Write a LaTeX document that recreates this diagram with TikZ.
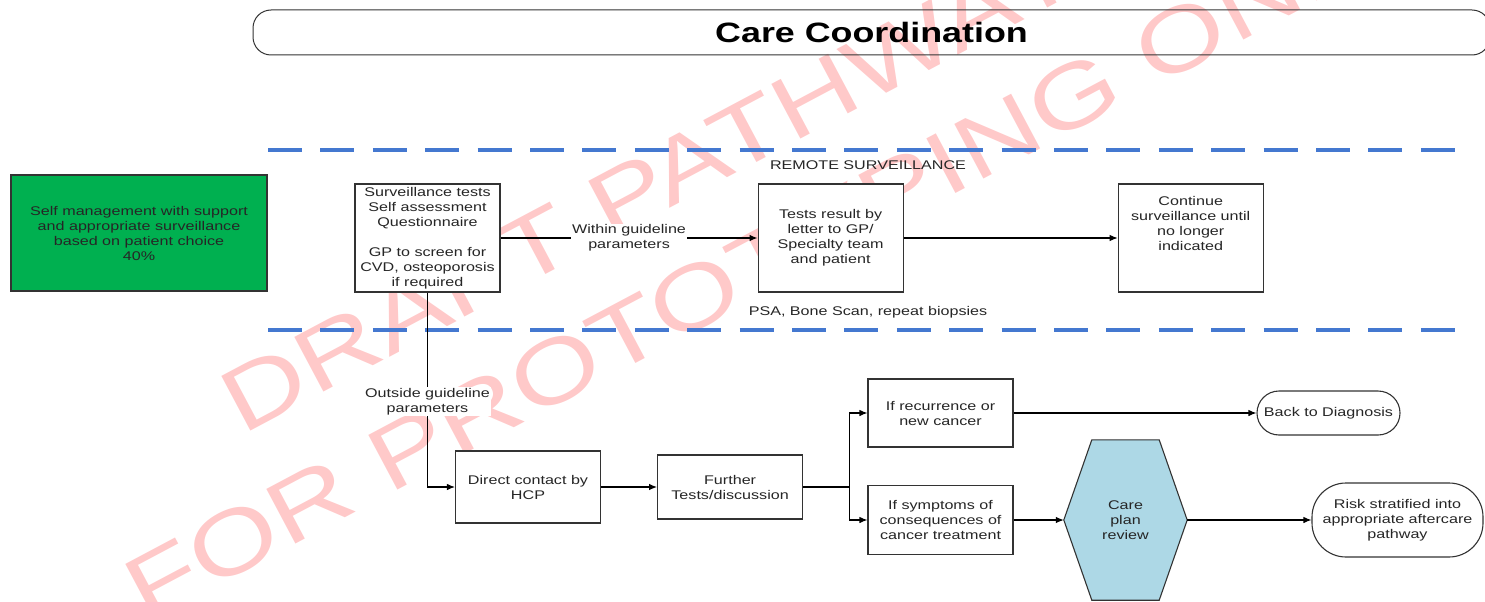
\documentclass[tikz,border=0pt]{standalone}
\usepackage{fontspec}
\setmainfont{Liberation Sans}[FakeStretch=1.28]
\usepackage{tikz}
\usetikzlibrary{arrows.meta, positioning, backgrounds}

\definecolor{laneblue}{RGB}{68,120,208}
\definecolor{selfgreen}{RGB}{0,176,80}
\definecolor{hexblue}{RGB}{173,216,230}

\begin{document}
\begin{tikzpicture}[
    x=1pt, y=-1pt,
    font=\fontsize{12.6}{15}\selectfont,
    box/.style={draw=black!80, line width=1.1pt, fill=white, align=center,
                inner sep=2pt, minimum width=145pt, text=black!85},
    tall/.style={box, minimum height=108pt},
    term/.style={box, rounded corners=22pt},
    lbl/.style={fill=white, align=center, inner sep=1pt, text=black!85},
    lane/.style={laneblue, line width=4pt, dash pattern=on 34pt off 18.4pt},
    wmark/.style={text=red!21, font=\fontsize{90}{90}\selectfont, rotate=28,
                  anchor=base west, inner sep=0pt},
    hexa/.style={fill=hexblue, draw=black!80, line width=1.1pt},
    arr/.style={-{Latex[length=8pt,width=6.5pt]}, line width=1.1pt}
]
\useasboundingbox (0,0) rectangle (1485,602);

% watermark
\begin{scope}[on background layer]
\node[wmark] (wm1) at (242,436) {DRAFT PATHWAY ONLY};
\node[wmark] (wm2) at (146,624) {FOR PROTOTYPING ONLY};
\end{scope}

\node[draw=black!80, line width=1pt, rounded corners=18pt, minimum width=1237pt,
      minimum height=45pt, font=\fontsize{28}{30}\selectfont\bfseries] (title)
      at (871.5,32.5) {Care Coordination};

% lanes
\draw[lane] (268,150) -- (1458,150);
\draw[lane] (268,330) -- (1458,330);
\node[text=black!85] (remote) at (868,165) {REMOTE SURVEILLANCE};
\node[text=black!85] (psa) at (868,312) {PSA, Bone Scan, repeat biopsies};

\node[box, fill=selfgreen, minimum width=256pt, minimum height=116pt] (self) at (139,233)
      {Self management with support\\and appropriate surveillance\\based on patient choice\\40\%};

\node[tall] (surv) at (427.5,238) {Surveillance tests\\Self assessment\\Questionnaire\\[15pt]GP to screen for\\CVD, osteoporosis\\if required};
\node[tall, right=257pt of surv] (result) {Tests result by\\letter to GP/\\Specialty team\\and patient};
\node[tall, right=214pt of result] (cont) {Continue\\surveillance until\\no longer\\indicated\\[15pt]~};

\node[box, minimum height=72pt] (direct) at (528,487) {Direct contact by\\HCP};
\node[box, minimum height=64pt, right=56pt of direct] (further) {Further\\Tests/discussion};

\node[box, minimum height=68pt] (recur) at (940.5,413) {If recurrence or\\new cancer};
\node[box, minimum height=69pt] (sympt) at (940.5,520) {If symptoms of\\consequences of\\cancer treatment};

\node[align=center, text=black!85, minimum width=123pt, minimum height=160pt] (care) at (1125.5,520) {Care\\plan\\review};
\begin{scope}[on background layer]
\draw[hexa] (care.west) -- ([xshift=28pt]care.north west) -- ([xshift=-28pt]care.north east)
    -- (care.east) -- ([xshift=-28pt]care.south east) -- ([xshift=28pt]care.south west) -- cycle;
\end{scope}

\node[term, minimum width=143pt, minimum height=44pt] (back) at (1328.5,413) {Back to Diagnosis};
\node[term, rounded corners=34pt, minimum width=171pt, minimum height=74pt] (risk) at (1397.5,520)
      {Risk stratified into\\appropriate aftercare\\pathway};

\draw[arr] (surv) -- node[lbl] (within) {Within guideline\\parameters} (result);
\draw[arr] (surv) |- node[lbl, pos=0.28] (outside) {Outside guideline\\parameters} (direct);
\draw[line width=1.1pt] (further.east) -- ++(46pt,0) coordinate (split);
\foreach \t in {recur, sympt} \draw[arr] (split) |- (\t);
\foreach \a/\b in {result/cont, direct/further, recur/back, sympt/care, care/risk} \draw[arr] (\a) -- (\b);
\end{tikzpicture}
\end{document}
